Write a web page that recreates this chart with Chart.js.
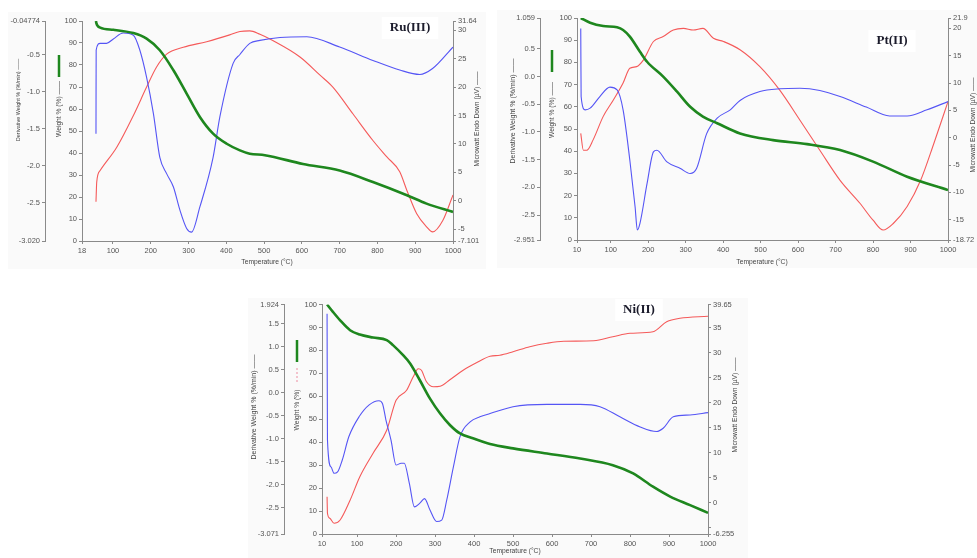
<!DOCTYPE html>
<html>
<head>
<meta charset="utf-8">
<script src="https://cdn.jsdelivr.net/npm/chart.js@4.4.0/dist/chart.umd.min.js"></script>
<style>
  body { margin: 0; background: #fff; width: 977px; height: 558px; position: relative; overflow: hidden; }
  canvas { position: absolute; background: #fafafa; }
</style>
</head>
<body>
<canvas id="ruChart" style="left:8px;top:12px" width="478" height="257"></canvas>
<canvas id="ptChart" style="left:497px;top:10px" width="480" height="258"></canvas>
<canvas id="niChart" style="left:248px;top:298px" width="500" height="260"></canvas>
<script>
// ---- Ru(III) ----
const ruTempTicks = [18, 100, 200, 300, 400, 500, 600, 700, 800, 900, 1000];
const ruDerivTicks = [-3.02, -2.5, -2.0, -1.5, -1.0, -0.5, -0.04774];
const ruDerivLabels = ["-3.020", "-2.5", "-2.0", "-1.5", "-1.0", "-0.5", "-0.04774"];
const ruHeatTicks = [-7.101, -5, 0, 5, 10, 15, 20, 25, 30, 31.64];
const ruHeatLabels = ["-7.101", "-5", "0", "5", "10", "15", "20", "25", "30", "31.64"];

const ruWeightT = [55, 56, 66, 101, 154, 189, 224, 260, 295, 330, 365, 401, 436, 462, 502, 603, 700, 788, 878, 930, 1000];
const ruWeight = [100, 99, 97, 96, 94.5, 92, 86.7, 77.6, 67, 56.4, 48.8, 44.2, 41.2, 39.7, 39, 35, 32, 26.8, 20.8, 17, 13.2];
const ruDerivT = [55, 55.5, 66, 83, 101, 127, 154, 171, 189, 207, 224, 242, 260, 277, 295, 308, 330, 365, 383, 418, 436, 462, 489, 542, 613, 700, 788, 859, 912, 946, 1000];
const ruDeriv = [-1.57, -0.44, -0.35, -0.35, -0.29, -0.21, -0.24, -0.44, -0.81, -1.30, -1.89, -2.11, -2.29, -2.60, -2.85, -2.90, -2.56, -1.89, -1.34, -0.62, -0.50, -0.35, -0.31, -0.27, -0.26, -0.40, -0.58, -0.71, -0.77, -0.69, -0.40];
const ruHeatT = [55, 57, 66, 110, 154, 189, 215, 242, 286, 348, 409, 436, 462, 489, 523, 595, 648, 682, 735, 788, 825, 859, 878, 904, 930, 946, 973, 1000];
const ruHeat = [-0.2, 3.3, 5.3, 9.4, 15.0, 20.0, 23.5, 25.8, 27.0, 28.0, 29.2, 29.8, 29.9, 29.3, 28.2, 25.3, 22.1, 20.0, 15.3, 10.6, 7.7, 5.1, 1.8, -2.3, -4.6, -5.5, -3.5, 1.0];

// ---- Pt(II) ----
const ptTempTicks = [10, 100, 200, 300, 400, 500, 600, 700, 800, 900, 1000];
const ptDerivTicks = [-2.951, -2.5, -2.0, -1.5, -1.0, -0.5, 0.0, 0.5, 1.059];
const ptDerivLabels = ["-2.951", "-2.5", "-2.0", "-1.5", "-1.0", "-0.5", "0.0", "0.5", "1.059"];
const ptHeatTicks = [-18.72, -15, -10, -5, 0, 5, 10, 15, 20, 21.9];
const ptHeatLabels = ["-18.72", "-15", "-10", "-5", "0", "5", "10", "15", "20", "21.9"];

const ptWeightT = [20, 45, 80, 117, 133, 151, 178, 197, 240, 277, 312, 346, 384, 445, 533, 624, 712, 800, 891, 1000];
const ptWeight = [100, 97.9, 96.4, 95.8, 94.6, 91.6, 84.8, 80.3, 73.6, 66.8, 60, 55.6, 52.6, 48, 45, 43.2, 40.5, 35.3, 28.5, 22.5];
const ptDerivT = [20, 21, 32, 45, 71, 98, 117, 133, 151, 165, 171, 178, 197, 214, 223, 250, 286, 312, 329, 356, 384, 419, 445, 498, 551, 605, 658, 712, 782, 844, 891, 944, 1000];
const ptDeriv = [0.87, -0.36, -0.60, -0.57, -0.36, -0.19, -0.24, -0.60, -1.51, -2.35, -2.77, -2.65, -1.93, -1.36, -1.33, -1.54, -1.66, -1.75, -1.66, -1.03, -0.75, -0.60, -0.43, -0.27, -0.22, -0.21, -0.25, -0.36, -0.55, -0.71, -0.71, -0.60, -0.45];
const ptHeatT = [20, 27, 36, 53, 80, 107, 133, 151, 169, 187, 214, 240, 267, 294, 320, 346, 374, 401, 445, 498, 551, 605, 658, 712, 765, 800, 827, 854, 891, 927, 962, 1000];
const ptHeat = [0.8, -2.3, -2.3, -0.4, 3.9, 6.9, 10.0, 12.7, 13.0, 14.2, 17.6, 18.5, 19.7, 20.0, 19.7, 20.0, 18.2, 17.6, 16.1, 13.0, 8.7, 3.2, -2.3, -7.8, -12.0, -15.1, -16.9, -15.7, -12.6, -7.8, -1.1, 6.6];

// ---- Ni(II) ----
const niTempTicks = [10, 100, 200, 300, 400, 500, 600, 700, 800, 900, 1000];
const niDerivTicks = [-3.071, -2.5, -2.0, -1.5, -1.0, -0.5, 0.0, 0.5, 1.0, 1.5, 1.924];
const niDerivLabels = ["-3.071", "-2.5", "-2.0", "-1.5", "-1.0", "-0.5", "0.0", "0.5", "1.0", "1.5", "1.924"];
const niHeatTicks = [-6.255, -5, 0, 5, 10, 15, 20, 25, 30, 35, 39.65];
const niHeatLabels = ["-6.255", "", "0", "5", "10", "15", "20", "25", "30", "35", "39.65"];

const niWeightT = [23, 38, 56, 82, 107, 141, 176, 192, 218, 236, 261, 287, 313, 338, 364, 397, 441, 500, 587, 672, 756, 808, 859, 903, 954, 1000];
const niWeight = [100, 96.8, 93.2, 88.8, 86.9, 85.6, 84.5, 82.3, 77.9, 74.3, 67, 59, 52.5, 47.5, 43.8, 41.7, 39.2, 37.3, 35.1, 32.9, 30, 26.4, 20.6, 16.3, 12.6, 9.2];
const niDerivT = [23, 24, 33, 41, 50, 62, 79, 105, 131, 156, 165, 174, 187, 200, 213, 221, 234, 247, 261, 273, 287, 304, 317, 330, 347, 364, 390, 415, 441, 500, 587, 672, 723, 774, 826, 868, 885, 911, 954, 1000];
const niDeriv = [1.72, -1.02, -1.61, -1.75, -1.72, -1.46, -0.95, -0.52, -0.26, -0.17, -0.23, -0.59, -1.03, -1.57, -1.53, -1.53, -1.97, -2.48, -2.40, -2.30, -2.55, -2.80, -2.77, -2.33, -1.61, -0.95, -0.63, -0.52, -0.45, -0.30, -0.25, -0.25, -0.30, -0.52, -0.74, -0.84, -0.77, -0.52, -0.48, -0.43];
const niHeatT = [23, 24, 30, 41, 56, 82, 107, 141, 176, 200, 227, 244, 257, 265, 278, 296, 313, 338, 372, 406, 441, 466, 500, 543, 587, 630, 707, 756, 800, 859, 894, 928, 1000];
const niHeat = [1.2, -2.1, -3.1, -4.1, -3.5, 0.5, 5.2, 9.9, 14.5, 20.5, 22.5, 25.2, 26.8, 26.5, 24.2, 23.2, 23.3, 24.6, 26.5, 28.0, 29.3, 29.5, 30.2, 31.2, 31.9, 32.3, 32.4, 33.2, 33.9, 34.2, 36.2, 36.9, 37.3];

const weightTicks = [0, 10, 20, 30, 40, 50, 60, 70, 80, 90, 100];

const GREEN = "rgb(30, 135, 30)";
const BLUE = "rgb(85, 85, 245)";
const RED = "rgb(245, 90, 90)";
const AXIS = "#8a8a8a";
const TICK_FONT = { family: "Liberation Sans", size: 7.5 };
const ROT = -Math.PI / 2;

function toPoints(xs, ys) {
  return xs.map((x, i) => ({ x: x, y: ys[i] }));
}

function fixedAxis(position, ticks, labels, size, weight) {
  return {
    type: "linear",
    position: position,
    min: ticks[0],
    max: ticks[ticks.length - 1],
    weight: weight,
    afterBuildTicks: (scale) => {
      scale.ticks = ticks.map((v) => ({ value: v }));
    },
    afterFit: (scale) => {
      if (position === "bottom") scale.height = size;
      else scale.width = size;
    },
    ticks: {
      autoSkip: false,
      maxRotation: 0,
      font: TICK_FONT,
      color: "#555",
      padding: 2,
      callback: (v, i) => labels[i],
    },
    grid: { drawOnChartArea: false, tickLength: 3, color: AXIS },
    border: { color: AXIS },
  };
}

// draws the axis titles, legend marks and panel names
const panelText = {
  id: "panelText",
  afterDraw(chart, args, opts) {
    const ctx = chart.ctx;
    (opts.marks || []).forEach((m) => {
      ctx.save();
      ctx.strokeStyle = m.color;
      ctx.lineWidth = m.width;
      ctx.setLineDash(m.dash || []);
      ctx.beginPath();
      ctx.moveTo(m.x, m.y1);
      ctx.lineTo(m.x, m.y2);
      ctx.stroke();
      ctx.restore();
    });
    (opts.texts || []).forEach((t) => {
      ctx.save();
      ctx.translate(t.x, t.y);
      if (t.rot) ctx.rotate(t.rot);
      ctx.font = t.font || "6.7px 'Liberation Sans'";
      ctx.textAlign = "center";
      ctx.textBaseline = "middle";
      if (t.box) {
        const w = ctx.measureText(t.text).width;
        ctx.fillStyle = "#fff";
        ctx.fillRect(-w / 2 - 8, -11, w + 16, 22);
      }
      ctx.fillStyle = t.color || "#444";
      ctx.fillText(t.text, 0, 0);
      ctx.restore();
    });
  },
};

function makePanel(id, p) {
  const ctx = document.getElementById(id).getContext("2d");
  return new Chart(ctx, {
    type: "line",
    data: {
      datasets: [
        { data: toPoints(p.weightT, p.weight), yAxisID: "y", borderColor: GREEN, borderWidth: 2.6 },
        { data: toPoints(p.derivT, p.deriv), yAxisID: "yD", borderColor: BLUE, borderWidth: 1.1 },
        { data: toPoints(p.heatT, p.heat), yAxisID: "yM", borderColor: RED, borderWidth: 1.1 },
      ],
    },
    options: {
      responsive: false,
      animation: false,
      elements: {
        point: { radius: 0 },
        line: { cubicInterpolationMode: "monotone", fill: false },
      },
      layout: { padding: p.padding },
      scales: {
        x: fixedAxis("bottom", p.tempTicks, p.tempTicks.map(String), p.xHeight, 0),
        y: fixedAxis("left", weightTicks, weightTicks.map(String), p.weightWidth, 0),
        yD: fixedAxis("left", p.derivTicks, p.derivLabels, p.derivWidth, 1),
        yM: fixedAxis("right", p.heatTicks, p.heatLabels, p.heatWidth, 0),
      },
      plugins: {
        legend: { display: false },
        tooltip: { enabled: false },
        panelText: { texts: p.texts, marks: p.marks },
      },
    },
    plugins: [panelText],
  });
}

makePanel("ruChart", {
  tempTicks: ruTempTicks,
  weightT: ruWeightT, weight: ruWeight,
  derivT: ruDerivT, deriv: ruDeriv, derivTicks: ruDerivTicks, derivLabels: ruDerivLabels,
  heatT: ruHeatT, heat: ruHeat, heatTicks: ruHeatTicks, heatLabels: ruHeatLabels,
  padding: { left: 2, right: 3, top: 9, bottom: 8 },
  derivWidth: 35, weightWidth: 37, heatWidth: 30, xHeight: 20,
  texts: [
    { text: "Derivative Weight % (%/min) ——", x: 10, y: 88, rot: ROT, font: "5.5px 'Liberation Sans'" },
    { text: "Weight % (%) ——", x: 51, y: 97, rot: ROT },
    { text: "Microwatt Endo Down (µV) ——", x: 469, y: 107, rot: ROT },
    { text: "Temperature (°C)", x: 259, y: 250 },
    { text: "Ru(III)", x: 402, y: 16, font: "bold 13px 'Liberation Serif'", color: "#1c1c2c", box: true },
  ],
  marks: [{ x: 51, y1: 43, y2: 65, color: GREEN, width: 2.5 }],
});

makePanel("ptChart", {
  tempTicks: ptTempTicks,
  weightT: ptWeightT, weight: ptWeight,
  derivT: ptDerivT, deriv: ptDeriv, derivTicks: ptDerivTicks, derivLabels: ptDerivLabels,
  heatT: ptHeatT, heat: ptHeat, heatTicks: ptHeatTicks, heatLabels: ptHeatLabels,
  padding: { left: 2, right: 3, top: 8, bottom: 8 },
  derivWidth: 41, weightWidth: 37, heatWidth: 26, xHeight: 20,
  texts: [
    { text: "Derivative Weight % (%/min) ——", x: 16, y: 101, rot: ROT, font: "7px 'Liberation Sans'" },
    { text: "Weight % (%) ——", x: 55, y: 100, rot: ROT },
    { text: "Microwatt Endo Down (µV) ——", x: 476, y: 115, rot: ROT },
    { text: "Temperature (°C)", x: 265, y: 252 },
    { text: "Pt(II)", x: 395, y: 31, font: "bold 13px 'Liberation Serif'", color: "#1c1c2c", box: true },
  ],
  marks: [{ x: 55, y1: 40, y2: 62, color: GREEN, width: 2.5 }],
});

makePanel("niChart", {
  tempTicks: niTempTicks,
  weightT: niWeightT, weight: niWeight,
  derivT: niDerivT, deriv: niDeriv, derivTicks: niDerivTicks, derivLabels: niDerivLabels,
  heatT: niHeatT, heat: niHeat, heatTicks: niHeatTicks, heatLabels: niHeatLabels,
  padding: { left: 2, right: 5, top: 6, bottom: 6 },
  derivWidth: 34, weightWidth: 38, heatWidth: 35, xHeight: 18,
  texts: [
    { text: "Derivative Weight % (%/min) ——", x: 6, y: 109, rot: ROT, font: "7px 'Liberation Sans'" },
    { text: "Weight % (%)", x: 49, y: 112, rot: ROT },
    { text: "Microwatt Endo Down (µV) ——", x: 487, y: 107, rot: ROT },
    { text: "Temperature (°C)", x: 267, y: 253 },
    { text: "Ni(II)", x: 391, y: 12, font: "bold 13px 'Liberation Serif'", color: "#1c1c2c", box: true },
  ],
  marks: [
    { x: 49, y1: 42, y2: 64, color: GREEN, width: 2.5 },
    { x: 49, y1: 70, y2: 86, color: "rgb(235, 140, 160)", width: 1, dash: [2, 2] },
  ],
});
</script>
</body>
</html>
